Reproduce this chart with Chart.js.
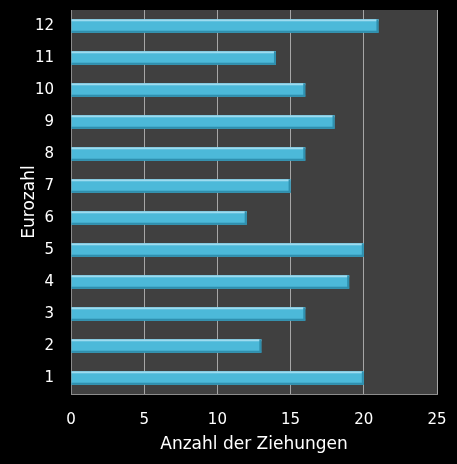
<!DOCTYPE html>
<html>
<head>
<meta charset="utf-8">
<script src="https://cdn.jsdelivr.net/npm/chart.js@4/dist/chart.umd.min.js"></script>
<style>
  html, body { margin: 0; padding: 0; background: #000; }
  #wrap { width: 457px; height: 464px; }
</style>
</head>
<body>
<div id="wrap"><canvas id="chart"></canvas></div>
<script>
const eurozahlen = ["1", "2", "3", "4", "5", "6", "7", "8", "9", "10", "11", "12"];
const ziehungen = [20, 13, 16, 19, 20, 12, 15, 16, 18, 16, 14, 21];
const xTicks = [0, 5, 10, 15, 20, 25];

const plotBackground = {
  id: "plotBackground",
  beforeDraw(chart) {
    const { ctx, chartArea } = chart;
    ctx.save();
    ctx.fillStyle = "#404040";
    ctx.fillRect(chartArea.left, chartArea.top, chartArea.right - chartArea.left, chartArea.bottom - chartArea.top);
    ctx.restore();
  }
};

// light top edge and darker bottom edge on each bar
const barShine = {
  id: "barShine",
  afterDatasetsDraw(chart) {
    const { ctx } = chart;
    chart.getDatasetMeta(0).data.forEach((bar) => {
      const top = bar.y - bar.height / 2;
      const bottom = bar.y + bar.height / 2;
      const left = Math.min(bar.base, bar.x);
      const width = Math.abs(bar.x - bar.base);
      ctx.save();
      ctx.fillStyle = "#9edcf0";
      ctx.fillRect(left, top, width, 2);
      ctx.fillStyle = "#2f8fae";
      ctx.fillRect(left, bottom - 2, width, 2);
      ctx.fillRect(left + width - 2, top, 2, bottom - top);
      ctx.restore();
    });
  }
};

new Chart(document.getElementById("chart"), {
  type: "bar",
  data: {
    labels: eurozahlen,
    datasets: [
      {
        data: ziehungen,
        backgroundColor: "#4cb9d9",
        borderWidth: 0,
        barPercentage: 0.42,
        categoryPercentage: 1
      }
    ]
  },
  options: {
    indexAxis: "y",
    responsive: true,
    maintainAspectRatio: false,
    animation: false,
    layout: {
      padding: { top: 10, right: 20, left: 19, bottom: 9 }
    },
    plugins: {
      legend: { display: false },
      tooltip: { enabled: false }
    },
    scales: {
      x: {
        min: 0,
        max: 25,
        afterBuildTicks: (axis) => {
          axis.ticks = xTicks.map((value) => ({ value }));
        },
        afterFit: (axis) => {
          axis.height = 61;
          axis.paddingLeft = 0;
          axis.paddingRight = 0;
        },
        grid: {
          color: "#a6a6a6",
          lineWidth: 1,
          drawTicks: false
        },
        border: { color: "#8c8c8c", width: 1 },
        ticks: {
          color: "#ffffff",
          padding: 17,
          font: { family: "DejaVu Sans", size: 15 }
        },
        title: {
          display: true,
          text: "Anzahl der Ziehungen",
          color: "#ffffff",
          padding: { top: 2, bottom: 0 },
          font: { family: "DejaVu Sans", size: 17 }
        }
      },
      y: {
        reverse: true,
        afterFit: (axis) => {
          axis.width = 52;
          axis.paddingTop = 0;
          axis.paddingBottom = 0;
        },
        grid: { display: false, drawTicks: false },
        border: { color: "#8c8c8c", width: 1 },
        ticks: {
          color: "#ffffff",
          padding: 17,
          font: { family: "DejaVu Sans", size: 15 }
        },
        title: {
          display: true,
          text: "Eurozahl",
          color: "#ffffff",
          padding: { top: 0, bottom: 0 },
          font: { family: "DejaVu Sans", size: 17 }
        }
      }
    }
  },
  plugins: [plotBackground, barShine]
});
</script>
</body>
</html>
